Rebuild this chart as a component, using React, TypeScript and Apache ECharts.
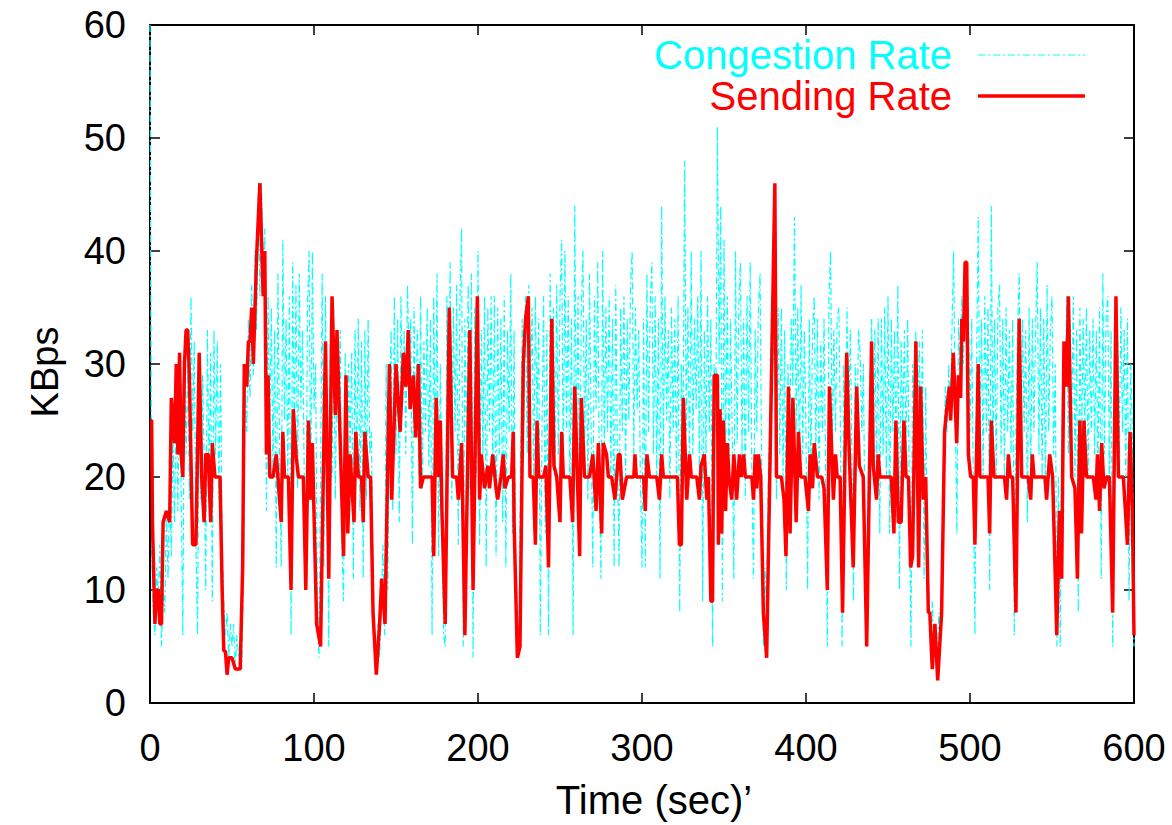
import React, { useEffect, useRef } from "react";
import * as echarts from "echarts";

// Congestion rate, one sample per second, t = 0 .. 600
const congestionRate: number[] = [
  60,14,8,6,12,9,14,5,10,8,
  17,11,19,13,24,16,27,17,29,19,
  6,31,22,30,18,36,24,32,14,6,
  31,18,29,22,10,33,20,31,9,33,
  22,32,18,30,14,9,6,8,4,7,
  5,7,3,6,4,5,3,12,28,24,
  34,27,37,29,40,33,45,36,46,38,
  42,17,36,24,35,20,33,12,38,22,
  12,41,25,34,20,36,6,39,23,37,
  19,38,26,33,21,10,35,40,18,40,
  26,30,9,4,20,38,12,36,22,5,
  34,20,35,18,30,24,33,14,9,31,
  15,30,22,31,11,33,20,34,17,32,
  11,33,18,34,22,24,10,5,3,7,
  4,8,14,6,30,10,26,33,17,36,
  22,34,16,36,26,33,22,37,30,34,
  14,35,24,33,20,36,19,32,24,35,
  21,34,6,36,22,38,13,30,18,6,
  5,36,20,39,18,35,24,37,14,36,
  42,5,34,22,37,19,38,4,35,20,
  40,14,33,22,36,12,35,24,36,20,
  36,13,35,22,34,16,36,12,33,24,
  38,15,33,8,4,6,22,34,25,36,
  22,37,28,35,18,36,25,34,6,24,
  36,15,33,6,38,24,35,20,37,22,
  36,41,20,40,24,36,18,34,6,44,
  22,36,16,35,40,22,34,18,38,24,
  12,36,26,39,20,11,40,22,35,24,
  36,20,34,12,37,22,12,35,24,36,
  20,34,25,37,40,22,35,26,33,20,
  12,34,12,38,24,35,39,22,36,20,
  34,11,44,22,36,25,33,18,35,24,
  34,20,36,8,30,22,48,24,35,20,
  40,22,34,26,36,20,40,9,33,22,
  36,24,34,5,30,24,51,30,44,9,
  41,22,36,20,34,24,11,40,23,35,
  39,22,34,18,36,24,39,20,11,33,
  24,35,38,20,5,12,8,20,25,36,
  30,34,18,35,22,35,20,33,10,30,
  22,34,28,43,24,35,20,37,22,33,
  24,10,34,20,33,36,22,34,18,32,
  24,34,20,5,36,40,22,33,24,34,
  35,24,5,30,22,35,24,33,22,9,
  30,22,33,31,24,30,14,5,20,28,
  34,22,33,20,34,15,34,22,35,20,
  36,15,34,24,33,20,37,10,32,24,
  33,22,34,18,5,30,24,33,20,32,
  22,33,11,28,10,8,4,9,5,7,
  3,8,5,12,22,28,24,30,25,33,
  40,26,15,34,28,36,30,38,33,36,
  24,34,20,6,30,43,22,34,20,36,
  24,35,10,44,22,34,20,35,37,22,
  34,20,35,24,33,22,34,6,24,33,
  38,22,34,24,33,16,35,20,34,24,
  33,39,22,35,20,34,18,37,24,33,
  36,22,30,5,20,5,24,32,28,36,
  22,34,24,36,20,33,8,35,22,34,
  24,35,20,33,24,34,22,33,20,35,
  11,38,22,34,36,20,33,5,24,34,
  33,22,35,24,33,20,34,9,30,24,
  5,
];

// Sending rate as [time (sec), KBps]
const sendingRate: [number, number][] = [
  [0,25],[1,25],[1.5,16],[3,7],[4,10],[5,10],[6,7],[7,7],[8,16],[10,17],[12,16],[13,27],[15,23],[16,30],[17,22],[18,31],[19,22],[20,20],[21,30],[22,33],[23,33],[24,29],[26,14],[28,14],[30,31],[31.5,20],[33,16],[34,22],[35.5,22],[37,16],[38,23],[39.6,20],[42.7,20],[44,10],[45,4.6],[46,4.6],[47,2.5],[48,4],[50,4],[52,3],[55,3],[56.5,12],[57.5,30],[59,28],[60,32],[61,32],[62,35],[63,30],[65,39.5],[67,46],[69,36],[70,40],[71,22],[72,29],[73,20],[75,20],[77,22],[78,20],[80,16],[81,24],[82,20],[84.4,20],[86,10],[87.4,26],[89,22],[90.5,20],[93.5,20],[95,10],[96.6,25],[98,18],[99,23],[101.6,7],[104,5],[107,32],[109,11],[111,36],[113,25.5],[114,33],[116,23],[118,13],[119.5,29],[120.6,15],[122,22],[124.4,16],[125.5,24],[127,20],[129,20],[130,16],[131,24],[133,20],[134.5,20],[136,8],[138,2.5],[140,7],[141.3,11],[143.3,7],[146,30],[147.4,18],[150,30],[152.5,24],[154.5,31],[156,28],[157.5,33],[158.6,26],[160.6,29],[162,23.5],[163.7,30],[165,19],[166.7,20],[172,20],[173,13],[174.5,27],[176,20],[177,25],[178,17],[180,7],[182.5,35],[184.5,20],[187,20],[188,18],[190,23],[192,6],[195,33],[197,10],[199.6,36],[201,18],[202,22],[204,19],[206,21],[207,19],[209,22],[211,19],[212,18],[214,20],[215.4,22],[216.4,19],[218.5,20],[220.5,20],[221.5,24],[222,16],[224,4],[225.6,5],[227.6,30],[229,34],[230.7,36],[231.7,20],[233.7,20],[235,14],[236,25],[237,20],[240,20],[241.4,21],[243,12],[245,34],[246.3,21],[248,20],[250,16],[251,24],[252,20],[256,20],[257.7,16],[259,28],[260.6,20],[262,13],[263,27],[265,20],[268,20],[270,22],[272,17],[273.4,23],[275.4,15],[276.4,23],[278.4,22],[279.5,20],[281.5,20],[283.5,18],[285.6,22],[286.6,22],[288,18],[290.6,20],[295,20],[295.7,22],[296.5,20],[301,20],[302,17],[303,22],[304.5,20],[309,20],[310.6,18],[312,22],[313,20],[321.6,20],[322.8,14],[324,14],[325.2,27],[327.3,18],[329,22],[330,20],[333.4,20],[335,18],[336,21],[338,22],[339.5,18],[340.5,20],[342,9],[343,9],[344,29],[346,29],[346.6,14],[347.6,26],[348.6,15],[349.6,25],[351,17],[352,23],[353,20],[354.7,18],[356,22],[357.7,18],[359.4,22],[360.5,20],[362,22],[363,20],[367,20],[368,18],[369,22],[370,19],[371,22],[372.4,20],[374,8],[376,4],[381,46],[382,20],[385,20],[386.6,18],[387.8,13],[389.3,28],[390.3,15],[392,27],[394,16],[395.4,24],[396.8,20],[399.4,20],[401.5,17],[402.5,22],[404,19],[405,23],[407,20],[409.6,20],[411,19],[413,10],[414.3,28],[416.7,18],[418,22],[419,20],[420.8,20],[422.3,8],[424.8,31],[426.4,22],[428.8,12],[430.9,28],[432.5,21],[434.9,20],[437,5],[440,32],[441,21],[443,18],[444,22],[445,20],[452,20],[453.6,15],[454.8,25],[456.3,16],[458,16],[459.7,25],[461,20],[462.5,20],[463.8,12],[465,13],[467,32],[468.7,12],[469.9,28],[471.5,18],[473,20],[474.6,8],[475.5,8],[477,3],[478.6,7],[480.3,2],[482.7,8],[484.5,24],[485.8,26],[487.4,28],[488.2,25],[489.8,31],[491.9,23],[492.9,29],[494.3,27],[495,34],[496,32],[497,39],[498,39],[499,22],[500.4,20],[502,20],[503,14],[505,30],[506,20],[511,20],[512,15],[513,25],[514.6,20],[521,20],[522.3,18],[523.4,22],[524.5,20],[526,20],[528,8],[530,34],[531.5,20],[535.5,20],[537,18],[538,22],[539,20],[545.7,20],[546.7,18],[548.6,22],[550.4,20],[552.9,6],[554.5,17],[555.9,11],[557.3,32],[559,28],[560,36],[562,20],[564,19],[565.5,11],[567,25],[568,15],[569.5,25],[571,20],[575.2,20],[576.8,18],[577.7,22],[579,17],[580.3,23],[581.7,19],[583.3,20],[585,20],[587,8],[589,36],[590.5,20],[593.5,20],[596,14],[597.6,24],[599,17],[600,6],
];

const seriesNames = ["Congestion Rate", "Sending Rate"];
const xTitle = "Time (sec)\u2019";
const yTitle = "KBps";

export default function App() {
  const ref = useRef<HTMLDivElement>(null);
  useEffect(() => {
    const chart = echarts.init(ref.current!, null, { renderer: "svg" });
    const font = "'Liberation Sans', Arial, Helvetica, sans-serif";
    const fs = 38;
    const fsBig = 40;
    const congestionData = congestionRate.map((v, i) => [i, v]);
    const axisLine = { show: true, onZero: false, lineStyle: { color: "#000", width: 2 } };
    const tick = { show: true, inside: true, length: 10, lineStyle: { color: "#000", width: 1.5 } };
    chart.setOption({
      animation: false,
      backgroundColor: "#fff",
      grid: { left: 150, right: 38, top: 25, bottom: 122, containLabel: false },
      xAxis: [
        {
          type: "value", min: 0, max: 600, interval: 100, position: "bottom",
          axisLine, axisTick: tick, splitLine: { show: false },
          axisLabel: { color: "#000", fontSize: fs, fontFamily: font, margin: 26 },
        },
        {
          type: "value", min: 0, max: 600, interval: 100, position: "top",
          axisLine, axisTick: tick, splitLine: { show: false }, axisLabel: { show: false },
        },
      ],
      yAxis: [
        {
          type: "value", min: 0, max: 60, interval: 10, position: "left",
          axisLine, axisTick: tick, splitLine: { show: false },
          axisLabel: { color: "#000", fontSize: fs, fontFamily: font, margin: 24 },
        },
        {
          type: "value", min: 0, max: 60, interval: 10, position: "right",
          axisLine, axisTick: tick, splitLine: { show: false }, axisLabel: { show: false },
        },
      ],
      series: [
        {
          type: "line", name: seriesNames[0], data: congestionData, symbol: "none",
          xAxisIndex: 0, yAxisIndex: 0,
          lineStyle: { color: "#00ffff", width: 1.2, type: [7, 3, 2, 3] },
        },
        {
          type: "line", name: seriesNames[1], data: sendingRate, symbol: "none",
          xAxisIndex: 0, yAxisIndex: 0,
          lineStyle: { color: "#ff0000", width: 3.5 },
        },
      ],
      graphic: [
        {
          type: "text", x: 952, y: 55,
          style: { text: seriesNames[0], fill: "#00ffff", font: `${fsBig}px ${font}`, textAlign: "right", textVerticalAlign: "middle" },
        },
        {
          type: "line", shape: { x1: 978, y1: 55, x2: 1085, y2: 55 },
          style: { stroke: "#00ffff", lineWidth: 1, lineDash: [7, 3, 2, 3] },
        },
        {
          type: "text", x: 952, y: 96,
          style: { text: seriesNames[1], fill: "#ff0000", font: `${fsBig}px ${font}`, textAlign: "right", textVerticalAlign: "middle" },
        },
        {
          type: "line", shape: { x1: 978, y1: 96, x2: 1085, y2: 96 },
          style: { stroke: "#ff0000", lineWidth: 3.5 },
        },
        {
          type: "text", x: 654, y: 800,
          style: { text: xTitle, fill: "#000", font: `${fsBig}px ${font}`, textAlign: "center", textVerticalAlign: "middle" },
        },
        {
          type: "text", x: 45, y: 372, rotation: Math.PI / 2,
          style: { text: yTitle, fill: "#000", font: `${fs}px ${font}`, textAlign: "center", textVerticalAlign: "middle" },
        },
      ],
    });
    return () => chart.dispose();
  }, []);
  return (
    <div
      ref={ref}
      style={{ position: "fixed", left: 0, top: 0, width: 1172, height: 825, background: "#fff" }}
    />
  );
}
